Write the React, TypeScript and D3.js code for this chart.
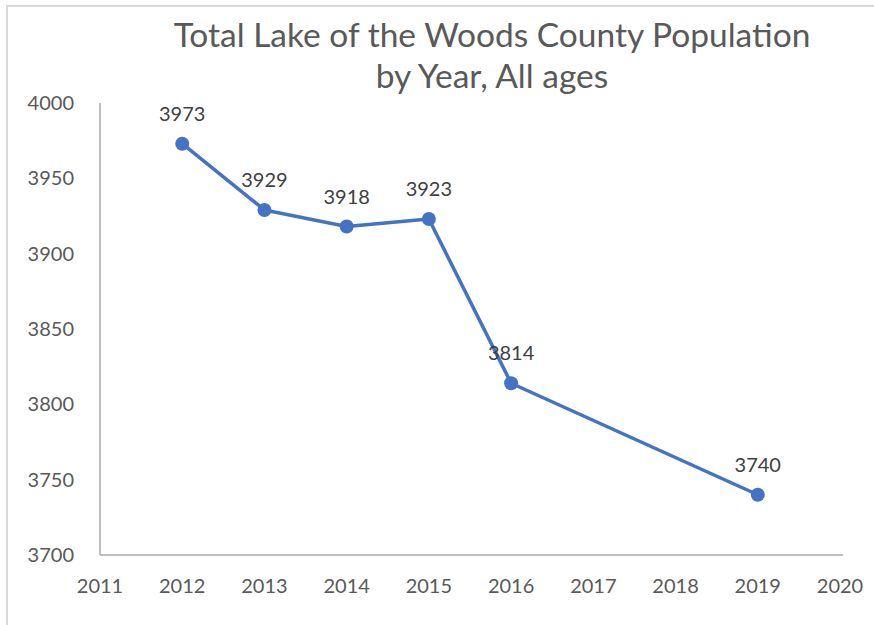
import React from "react";
import * as d3 from "d3";

const years = [2012, 2013, 2014, 2015, 2016, 2019];
const population = [3973, 3929, 3918, 3923, 3814, 3740];
const xTicks = [2011, 2012, 2013, 2014, 2015, 2016, 2017, 2018, 2019, 2020];
const yTicks = [3700, 3750, 3800, 3850, 3900, 3950, 4000];
const titleLines = ["Total Lake of the Woods County Population", "by Year, All ages"];

export default function App() {
  const W = 874, H = 625;
  const x = d3.scaleLinear().domain([2011, 2020]).range([100, 840]);
  const y = d3.scaleLinear().domain([3700, 4000]).range([555, 103]);
  const pts = years.map((yr, i) => [x(yr), y(population[i])] as [number, number]);
  const line = d3.line()(pts) || "";
  const font = "Lato, 'Open Sans', sans-serif";
  return (
    <svg width={W} height={H} style={{ position: "absolute", left: 0, top: 0, background: "#fff" }}>
      <rect x={7} y={6} width={900} height={700} fill="#fff" stroke="#d9d9d9" strokeWidth={2} />
      {titleLines.map((t, i) => (
        <text key={i} x={492} y={47 + i * 41} textAnchor="middle" fontFamily={font} fontSize={33.5} fill="#595959">{t}</text>
      ))}
      <line x1={x(2011)} x2={x(2011)} y1={y(4000)} y2={y(3700)} stroke="#bfbfbf" strokeWidth={2} />
      <line x1={x(2011)} x2={843} y1={y(3700)} y2={y(3700)} stroke="#bfbfbf" strokeWidth={2} />
      {yTicks.map((v) => (
        <text key={v} x={74} y={y(v) + 7} textAnchor="end" fontFamily={font} fontSize={20} fill="#595959">{v}</text>
      ))}
      {xTicks.map((v) => (
        <text key={v} x={x(v)} y={593} textAnchor="middle" fontFamily={font} fontSize={20} fill="#595959">{v}</text>
      ))}
      <path d={line} fill="none" stroke="#4472C4" strokeWidth={3.5} strokeLinejoin="round" />
      {pts.map((p, i) => (
        <circle key={i} cx={p[0]} cy={p[1]} r={7} fill="#4472C4" />
      ))}
      {pts.map((p, i) => (
        <text key={"l" + i} x={p[0]} y={p[1] - 23} textAnchor="middle" fontFamily={font} fontSize={20} fill="#404040">{population[i]}</text>
      ))}
    </svg>
  );
}
